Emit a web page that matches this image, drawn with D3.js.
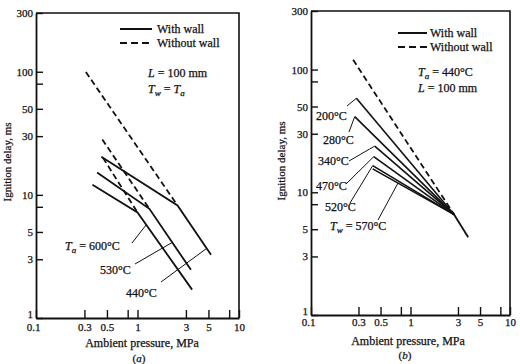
<!DOCTYPE html>
<html><head><meta charset="utf-8">
<script src="https://cdn.jsdelivr.net/npm/d3@7/dist/d3.min.js"></script>
<style>
html,body{margin:0;padding:0;background:#fff;}
svg{display:block;font-family:"Liberation Serif","DejaVu Serif",serif;}
svg text{stroke:#111;stroke-width:0.25px;}
</style></head>
<body>
<svg id="chart" width="520" height="364"></svg>
<script>
// ---------- data ----------
const xTickValues = [0.1, 0.3, 0.5, 0.8, 1, 3, 5, 8, 10];
const xTickLabels = ["0.1", "0.3", "0.5", "", "1", "3", "5", "", "10"];
const yTickValues = [1, 3, 5, 8, 10, 30, 50, 80, 100, 300];
const yTickLabels = ["1", "3", "5", "", "10", "30", "50", "", "100", "300"];

// Panel (a): T_w = T_a, L = 100 mm  (pressure MPa, delay ms)
const aTemps = ["600°C", "530°C", "440°C"];
const aWithWall600 = [[0.36, 12.1], [1.0, 7.2], [3.45, 1.7]];
const aWithWall530 = [[0.40, 15.2], [1.31, 7.7], [3.36, 2.46]];
const aWithWall440 = [[0.44, 20.4], [2.48, 8.2], [5.3, 3.26]];
const aWithoutWall600 = [[0.457, 20.0], [1.0, 7.2]];
const aWithoutWall530 = [[0.45, 28.2], [1.31, 7.7]];
const aWithoutWall440 = [[0.31, 99.5], [2.48, 8.2]];

// Panel (b): T_a = 440°C, L = 100 mm
const bTemps = ["200°C", "280°C", "340°C", "470°C", "520°C", "570°C"];
const bStartPressure = [0.286, 0.275, 0.437, 0.427, 0.417, 0.417];
const bStartDelay = [58.4, 41.3, 23.8, 19.5, 16.5, 15.5];
const bMergePoint = [2.75, 6.57];
const bTailEnd = [3.8, 4.3];
const bWithoutWall = [[0.265, 120], [2.75, 6.57]];

// ---------- drawing ----------
const svg = d3.select("#chart");
const FONT = '"Liberation Serif","DejaVu Serif",serif';
const DASH = "6,3.5";

function makePanel(cfg) {
  const x = d3.scaleLog().domain([0.1, 10]).range([cfg.x0, cfg.x1]);
  const y = d3.scaleLog().domain([1, 300]).range([cfg.yBot, cfg.yTop]);
  const g = svg.append("g");
  g.append("path")
    .attr("d", `M${cfg.x0},${cfg.yTop}H${cfg.x1}V${cfg.yBot}`)
    .attr("fill", "none").attr("stroke", "#111").attr("stroke-width", 1.6);
  const xAxis = d3.axisBottom(x).tickValues(xTickValues)
    .tickFormat((d, i) => xTickLabels[i]).tickSizeInner(-8).tickSizeOuter(0).tickPadding(cfg.xPad);
  const ax = g.append("g").attr("transform", `translate(0,${cfg.yBot})`).call(xAxis);
  const yAxis = d3.axisLeft(y).tickValues(yTickValues)
    .tickFormat((d, i) => yTickLabels[i]).tickSizeInner(-7).tickSizeOuter(0).tickPadding(3);
  const ay = g.append("g").attr("transform", `translate(${cfg.x0},0)`).call(yAxis);
  [ax, ay].forEach(a => {
    a.select(".domain").attr("stroke", "#111").attr("stroke-width", 1.8);
    a.selectAll(".tick line").attr("stroke", "#111").attr("stroke-width", 1.4);
    a.selectAll(".tick text").attr("font-family", FONT).attr("font-size", 11).attr("fill", "#111");
  });
  ay.selectAll(".tick text").filter(d => d === 1).attr("dy", "-0.05em");
  ax.selectAll(".tick text").filter(d => d === 0.1).attr("dx", -3);
  return { x, y, g };
}

const line = (x, y) => d3.line().x(d => x(d[0])).y(d => y(d[1]));

function drawLegend(g, lx0, lx1, y1, y2, tx) {
  g.append("line").attr("x1", lx0).attr("x2", lx1).attr("y1", y1).attr("y2", y1)
    .attr("stroke", "#111").attr("stroke-width", 2);
  g.append("line").attr("x1", lx0).attr("x2", lx1).attr("y1", y2).attr("y2", y2)
    .attr("stroke", "#111").attr("stroke-width", 2).attr("stroke-dasharray", "7,4");
  g.append("text").attr("x", tx).attr("y", y1 + 4).text("With wall")
    .attr("font-size", 12).attr("font-family", FONT).attr("fill", "#111");
  g.append("text").attr("x", tx).attr("y", y2 + 4).text("Without wall")
    .attr("font-size", 12).attr("font-family", FONT).attr("fill", "#111");
}

function subText(g, x, yb, parts, size) {
  const t = g.append("text").attr("x", x).attr("y", yb).attr("font-size", size)
    .attr("font-family", FONT).attr("fill", "#111");
  parts.forEach(p => {
    const s = t.append("tspan").text(p.t);
    if (p.i) s.attr("font-style", "italic");
    if (p.sub) s.attr("dy", 3).attr("font-size", size * 0.75);
    if (p.up) s.attr("dy", -3);
  });
  return t;
}

function titles(g, cx, xb, tag, tagY, ycx, ycy) {
  g.append("text").attr("x", cx).attr("y", xb).attr("text-anchor", "middle")
    .attr("font-size", 12).attr("font-family", FONT).attr("fill", "#111").text("Ambient pressure, MPa");
  const t = g.append("text").attr("x", cx - 3).attr("y", tagY).attr("text-anchor", "middle")
    .attr("font-size", 11).attr("font-family", FONT).attr("fill", "#111");
  t.append("tspan").text("(");
  t.append("tspan").attr("font-style", "italic").text(tag);
  t.append("tspan").text(")");
  g.append("text").attr("transform", `translate(${ycx},${ycy}) rotate(-90)`).attr("text-anchor", "middle")
    .attr("font-size", 11).attr("font-family", FONT).attr("fill", "#111").text("Ignition delay, ms");
}

// ----- Panel (a)
const A = makePanel({ x0: 36, x1: 239, yTop: 13, yBot: 318, xPad: 5 });
{
  const L = line(A.x, A.y);
  const solids = [aWithWall600, aWithWall530, aWithWall440];
  const dashes = [aWithoutWall600, aWithoutWall530, aWithoutWall440];
  dashes.forEach(d => A.g.append("path").attr("d", L(d)).attr("fill", "none")
    .attr("stroke", "#111").attr("stroke-width", 1.8).attr("stroke-dasharray", DASH));
  solids.forEach(d => A.g.append("path").attr("d", L(d)).attr("fill", "none")
    .attr("stroke", "#111").attr("stroke-width", 1.8).attr("stroke-linejoin", "miter"));
  const tAlong = [0.16, 0.55, 0.87];
  const leaderStart = [[132, 243], [135, 264], [161, 282]];
  solids.forEach((d, i) => {
    const p = [A.x(d[1][0]), A.y(d[1][1])], q = [A.x(d[2][0]), A.y(d[2][1])];
    const tx = p[0] + (q[0] - p[0]) * tAlong[i], ty = p[1] + (q[1] - p[1]) * tAlong[i];
    A.g.append("line").attr("x1", leaderStart[i][0]).attr("y1", leaderStart[i][1])
      .attr("x2", tx).attr("y2", ty).attr("stroke", "#111").attr("stroke-width", 1);
  });
  subText(A.g, 65, 250, [{ t: "T", i: 1 }, { t: "a", i: 1, sub: 1 }, { t: " = " + aTemps[0], up: 1 }], 12);
  subText(A.g, 100, 274, [{ t: aTemps[1] }], 12);
  subText(A.g, 126, 297, [{ t: aTemps[2] }], 12);
  drawLegend(A.g, 120, 152, 29, 43, 157);
  subText(A.g, 148, 77, [{ t: "L", i: 1 }, { t: " = 100 mm" }], 12);
  subText(A.g, 148, 93, [{ t: "T", i: 1 }, { t: "w", i: 1, sub: 1 }, { t: " = ", up: 1 }, { t: "T", i: 1 }, { t: "a", i: 1, sub: 1 }], 12);
  titles(A.g, 142, 347, "a", 361.5, 11, 162);
}

// ----- Panel (b)
const B = makePanel({ x0: 311, x1: 510, yTop: 11, yBot: 315, xPad: 3 });
{
  const L = line(B.x, B.y);
  B.g.append("path").attr("d", L(bWithoutWall)).attr("fill", "none")
    .attr("stroke", "#111").attr("stroke-width", 1.8).attr("stroke-dasharray", DASH);
  bTemps.forEach((t, i) => {
    B.g.append("path").attr("d", L([[bStartPressure[i], bStartDelay[i]], bMergePoint]))
      .attr("fill", "none").attr("stroke", "#111").attr("stroke-width", 1.6);
  });
  B.g.append("path").attr("d", L([bMergePoint, bTailEnd])).attr("fill", "none")
    .attr("stroke", "#111").attr("stroke-width", 1.8);
  const labelPos = [[316, 120], [323, 144], [318, 165], [316, 190], [325, 211], [330, 229.5]];
  const leaderStart = [[347, 106], [349, 132], [349, 161], [346, 184], [350, 203], [378, 220]];
  const tAlong = [0, 0, 0, 0, 0, 0.31];
  bTemps.forEach((t, i) => {
    const p = [B.x(bStartPressure[i]), B.y(bStartDelay[i])], q = [B.x(bMergePoint[0]), B.y(bMergePoint[1])];
    const tx = p[0] + (q[0] - p[0]) * tAlong[i], ty = p[1] + (q[1] - p[1]) * tAlong[i];
    B.g.append("line").attr("x1", leaderStart[i][0]).attr("y1", leaderStart[i][1])
      .attr("x2", tx).attr("y2", ty).attr("stroke", "#111").attr("stroke-width", 1);
    if (i === 5) {
      subText(B.g, labelPos[i][0], labelPos[i][1], [{ t: "T", i: 1 }, { t: "w", i: 1, sub: 1 }, { t: " = " + t, up: 1 }], 12);
    } else {
      subText(B.g, labelPos[i][0], labelPos[i][1], [{ t: t }], 12);
    }
  });
  drawLegend(B.g, 398, 427, 33, 47, 430);
  subText(B.g, 418, 76, [{ t: "T", i: 1 }, { t: "a", i: 1, sub: 1 }, { t: " =  440°C", up: 1 }], 12);
  subText(B.g, 418, 92, [{ t: "L", i: 1 }, { t: " = 100 mm" }], 12);
  titles(B.g, 408, 345, "b", 359, 285, 161);
}
</script>
</body></html>
